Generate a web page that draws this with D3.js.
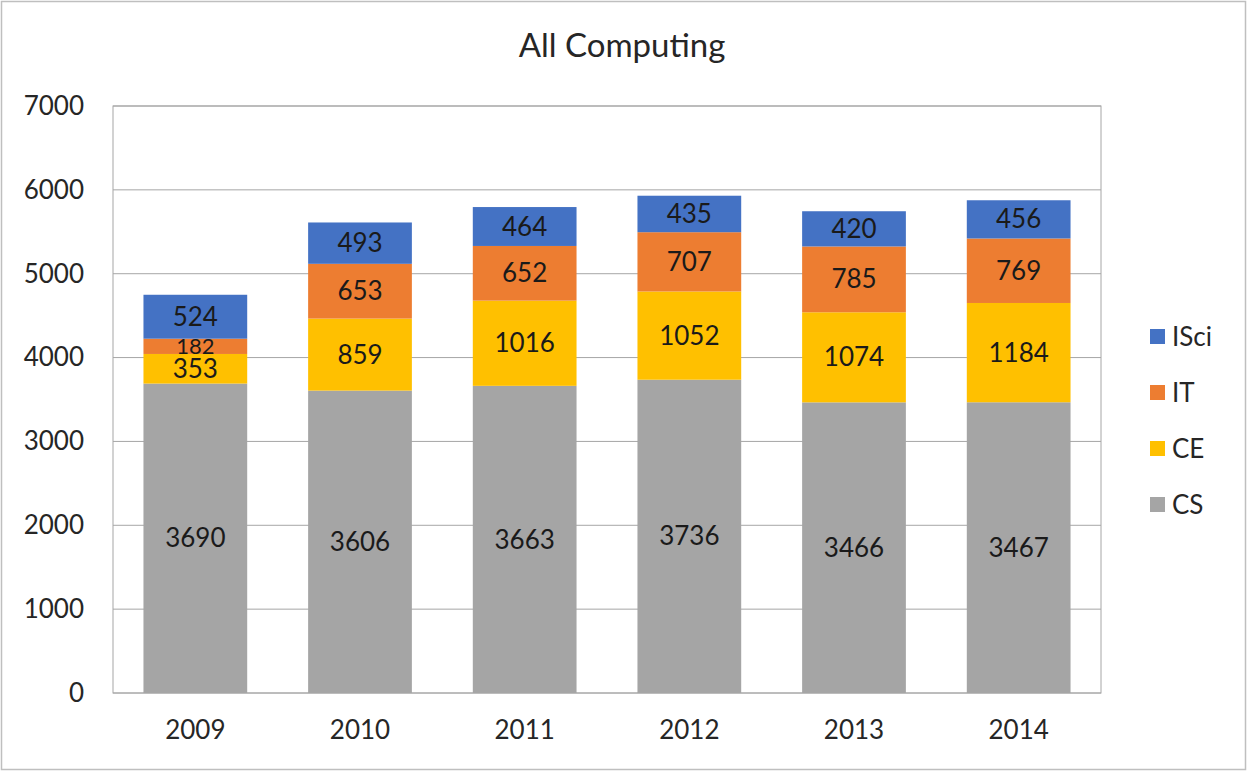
<!DOCTYPE html>
<html>
<head>
<meta charset="utf-8">
<script src="https://cdn.jsdelivr.net/npm/d3@7"></script>
<style>
  body { margin: 0; background: #ffffff; }
  text { font-family: Lato, "Open Sans", sans-serif; fill: #262626; }
</style>
</head>
<body>
<div id="chart"></div>
<script>
const years = ["2009", "2010", "2011", "2012", "2013", "2014"];
const csVals = [3690, 3606, 3663, 3736, 3466, 3467];
const ceVals = [353, 859, 1016, 1052, 1074, 1184];
const itVals = [182, 653, 652, 707, 785, 769];
const isciVals = [524, 493, 464, 435, 420, 456];
const seriesNames = ["CS", "CE", "IT", "ISci"];
const seriesColors = ["#a5a5a5", "#ffc000", "#ed7d31", "#4472c4"];
const yTicks = [0, 1000, 2000, 3000, 4000, 5000, 6000, 7000];

const width = 1247, height = 771;
const plot = {left: 113, right: 1101, top: 106, bottom: 693};

let svg = d3.select("#chart")
    .append("svg")
    .attr("width", width)
    .attr("height", height);

// outer chart border
svg.append("rect")
    .attr("x", 1.5).attr("y", 1.5)
    .attr("width", width - 3).attr("height", height - 3)
    .style("fill", "#ffffff")
    .style("stroke", "#bfbfbf")
    .style("stroke-width", 1.5);

let rows = years.map(function(y, i) {
    return {year: y, CS: csVals[i], CE: ceVals[i], IT: itVals[i], ISci: isciVals[i]};
});
let stacked = d3.stack().keys(seriesNames)(rows);

let x = d3.scaleBand()
    .domain(years)
    .range([plot.left, plot.right])
    .paddingInner(0.37)
    .paddingOuter(0.185);

let y = d3.scaleLinear()
    .domain([0, 7000])
    .range([plot.bottom, plot.top]);

// gridlines
svg.append("g")
    .selectAll("line")
    .data(yTicks)
    .enter()
    .append("line")
    .attr("x1", plot.left).attr("x2", plot.right)
    .attr("y1", function(d) { return y(d); })
    .attr("y2", function(d) { return y(d); })
    .style("stroke", "#a6a6a6")
    .style("stroke-width", 1);

// plot area box
svg.append("rect")
    .attr("x", plot.left).attr("y", plot.top)
    .attr("width", plot.right - plot.left)
    .attr("height", plot.bottom - plot.top)
    .style("fill", "none")
    .style("stroke", "#a6a6a6")
    .style("stroke-width", 1);

// bars
let layer = svg.append("g")
    .selectAll("g")
    .data(stacked)
    .enter()
    .append("g")
    .style("fill", function(d, i) { return seriesColors[i]; });

layer.selectAll("rect")
    .data(function(d) { return d; })
    .enter()
    .append("rect")
    .attr("x", function(d) { return x(d.data.year); })
    .attr("width", x.bandwidth())
    .attr("y", function(d) { return y(d[1]); })
    .attr("height", function(d) { return y(d[0]) - y(d[1]); });

// data labels
layer.selectAll("text")
    .data(function(d) { return d; })
    .enter()
    .append("text")
    .attr("x", function(d) { return x(d.data.year) + x.bandwidth() / 2; })
    .attr("y", function(d) { return (y(d[0]) + y(d[1])) / 2; })
    .attr("text-anchor", "middle")
    .attr("dy", "0.35em")
    .style("font-size", function(d) { return (y(d[0]) - y(d[1])) < 26 ? "22px" : "26px"; })
    .style("fill", "#1a1a1a")
    .text(function(d) { return d[1] - d[0]; });

// axes
let yAxis = svg.append("g")
    .attr("transform", "translate(84,0)")
    .call(d3.axisLeft(y).tickValues(yTicks).tickFormat(d3.format("d")).tickSize(0).tickPadding(0));
yAxis.select(".domain").remove();
yAxis.selectAll("text")
    .style("font-size", "26px")
    .style("font-family", "Lato, 'Open Sans', sans-serif")
    .style("fill", "#262626");

let xAxis = svg.append("g")
    .attr("transform", "translate(0," + plot.bottom + ")")
    .call(d3.axisBottom(x).tickSize(0).tickPadding(28));
xAxis.select(".domain").remove();
xAxis.selectAll("text")
    .style("font-size", "26px")
    .style("font-family", "Lato, 'Open Sans', sans-serif")
    .style("fill", "#262626");

// title
svg.append("text")
    .attr("x", 622)
    .attr("y", 57)
    .attr("text-anchor", "middle")
    .style("font-size", "33px")
    .text("All Computing");

// legend (top to bottom: ISci, IT, CE, CS)
let legendOrder = seriesNames.slice().reverse();
let legend = svg.append("g")
    .selectAll("g")
    .data(legendOrder)
    .enter()
    .append("g")
    .attr("transform", function(d, i) { return "translate(1150," + (337 + i * 56) + ")"; });

legend.append("rect")
    .attr("x", 0).attr("y", -8)
    .attr("width", 15).attr("height", 15)
    .style("fill", function(d) { return seriesColors[seriesNames.indexOf(d)]; });

legend.append("text")
    .attr("x", 22)
    .attr("dy", "0.35em")
    .style("font-size", "26px")
    .text(function(d) { return d; });
</script>
</body>
</html>
